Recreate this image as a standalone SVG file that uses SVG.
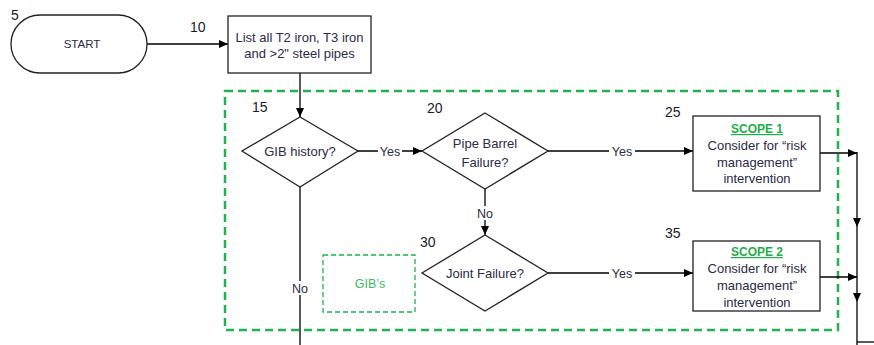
<svg xmlns="http://www.w3.org/2000/svg" width="874" height="345" viewBox="0 0 874 345">
<defs>
<marker id="ah" markerUnits="userSpaceOnUse" markerWidth="9" markerHeight="8" refX="9" refY="4" orient="auto">
<path d="M0,0 L9,4 L0,8 z" fill="#000"/>
</marker>
<style>
.s{fill:#fff;stroke:#222;stroke-width:1.3}
.t{font-family:"Liberation Sans",Arial,sans-serif;font-size:13px;fill:#2b2b45;text-anchor:middle}
.n{font-family:"Liberation Sans",Arial,sans-serif;font-size:14px;fill:#1a1a2a}
.c{fill:none;stroke:#000;stroke-width:1.3}
.lb{font-family:"Liberation Sans",Arial,sans-serif;font-size:12.5px;fill:#2b2b45;text-anchor:middle}
.g{font-family:"Liberation Sans",Arial,sans-serif;font-size:12px;fill:#1fae4a;text-anchor:middle;font-weight:bold;text-decoration:underline}
</style>
</defs>
<rect width="874" height="345" fill="#fff"/>
<g id="scope-region">
<rect x="225" y="91" width="613" height="239" fill="none" stroke="#22b14c" stroke-width="2.5" stroke-dasharray="8,5"/>
</g>
<g id="connectors">
<path class="c" d="M147,44 H228" marker-end="url(#ah)"/>
<path class="c" d="M300,73 V117" marker-end="url(#ah)"/>
<path class="c" d="M357,151 H422" marker-end="url(#ah)"/>
<path class="c" d="M548,151 H693" marker-end="url(#ah)"/>
<path class="c" d="M485,189 V235" marker-end="url(#ah)"/>
<path class="c" d="M548,273 H693" marker-end="url(#ah)"/>
<path class="c" d="M300,187 V345"/>
<path class="c" d="M820,153 H857" marker-end="url(#ah)"/>
<path class="c" d="M820,277 H857" marker-end="url(#ah)"/>
<path class="c" d="M857,152 V227" marker-end="url(#ah)"/>
<path class="c" d="M857,227 V302" marker-end="url(#ah)"/>
<path class="c" d="M857,302 V345"/>
<path class="c" d="M857,342 H874"/>
<rect x="378" y="144" width="24" height="14" fill="#fff"/>
<text class="lb" x="390" y="155.5">Yes</text>
<rect x="609" y="144" width="26" height="14" fill="#fff"/>
<text class="lb" x="622" y="155.5">Yes</text>
<rect x="609" y="266" width="26" height="14" fill="#fff"/>
<text class="lb" x="622" y="277.5">Yes</text>
<rect x="475" y="206" width="20" height="14" fill="#fff"/>
<text class="lb" x="485" y="217.5">No</text>
<rect x="290" y="281" width="20" height="14" fill="#fff"/>
<text class="lb" x="300" y="292.5">No</text>
</g>
<g id="n5">
<rect class="s" x="11" y="15" width="136" height="58" rx="29"/>
<text class="t" x="82" y="48" style="font-size:11.5px">START</text>
<text class="n" x="11" y="20">5</text>
</g>
<g id="n10">
<rect class="s" x="228" y="16" width="143" height="57"/>
<text class="t" x="299.5" y="41.5">List all T2 iron, T3 iron</text>
<text class="t" x="299.5" y="58">and &gt;2" steel pipes</text>
<text class="n" x="190" y="32">10</text>
</g>
<g id="n15">
<path class="s" d="M300,117 L358,151 L300,187 L242,151 Z"/>
<text class="t" x="300" y="155.5">GIB history?</text>
<text class="n" x="252" y="112">15</text>
</g>
<g id="n20">
<path class="s" d="M485,113 L548,151 L485,189 L422,151 Z"/>
<text class="t" x="485" y="147.5">Pipe Barrel</text>
<text class="t" x="485" y="166.5">Failure?</text>
<text class="n" x="427" y="113">20</text>
</g>
<g id="n25">
<rect class="s" x="693" y="116" width="127" height="75"/>
<text class="g" x="757" y="133">SCOPE 1</text>
<text class="t" x="757" y="149.5">Consider for “risk</text>
<text class="t" x="757" y="166.5">management”</text>
<text class="t" x="757" y="182.5">intervention</text>
<text class="n" x="665" y="117">25</text>
</g>
<g id="n30">
<path class="s" d="M485,235 L548,273 L485,311 L422,273 Z"/>
<text class="t" x="485" y="277.5">Joint Failure?</text>
<text class="n" x="420" y="247">30</text>
</g>
<g id="n35">
<rect class="s" x="693" y="241" width="127" height="70"/>
<text class="g" x="757" y="256">SCOPE 2</text>
<text class="t" x="757" y="272.5">Consider for “risk</text>
<text class="t" x="757" y="289.5">management”</text>
<text class="t" x="757" y="306.5">intervention</text>
<text class="n" x="665" y="238">35</text>
</g>
<g id="gibs">
<rect x="323" y="255" width="92" height="57" fill="none" stroke="#22b14c" stroke-width="1.3" stroke-dasharray="5,3"/>
<text class="t" x="370" y="288" style="fill:#3dbb5f;font-size:12.5px">GIB’s</text>
</g>
</svg>
